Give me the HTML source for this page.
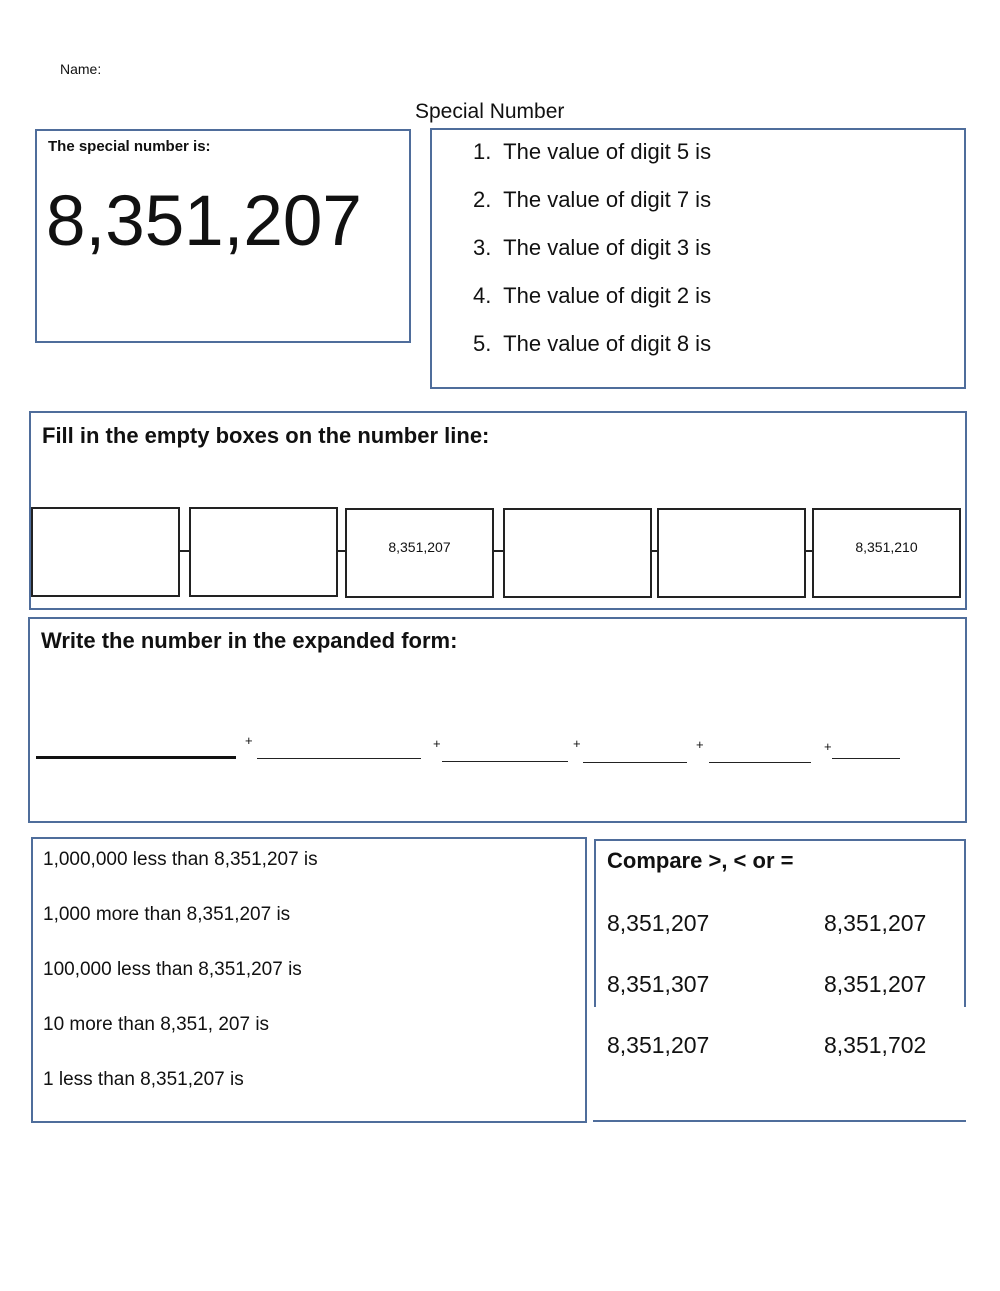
<!DOCTYPE html>
<html><head><style>
body{margin:0;width:1000px;height:1291px;background:#fff;position:relative;font-family:"Liberation Sans",sans-serif;color:#111;overflow:hidden}
.a{position:absolute}
.b{position:absolute;border:2px solid #4f6d9b;box-sizing:border-box}
.k{position:absolute;border:2px solid #222;box-sizing:border-box;font-size:14px;text-align:center;line-height:74px}
.t{position:absolute;white-space:nowrap}
.ln{position:absolute;height:0;border-top:1px solid #222}
.c{position:absolute;height:2px;background:#222}
</style></head><body>
<div class="t" style="left:60px;top:61px;font-size:14px">Name:</div>
<div class="t" style="left:415px;top:100px;font-size:21px">Special Number</div>

<div class="b" style="left:35px;top:129px;width:376px;height:214px"></div>
<div class="t" style="left:48px;top:138px;font-size:15px;font-weight:bold">The special number is:</div>
<div class="t" style="left:46px;top:181px;font-size:71px">8,351,207</div>

<div class="b" style="left:430px;top:128px;width:536px;height:261px"></div>
<div class="t" style="left:473px;top:128px;font-size:22px;line-height:48px">1.&nbsp; The value of digit 5 is<br>2.&nbsp; The value of digit 7 is<br>3.&nbsp; The value of digit 3 is<br>4.&nbsp; The value of digit 2 is<br>5.&nbsp; The value of digit 8 is</div>

<div class="b" style="left:29px;top:411px;width:938px;height:199px"></div>
<div class="t" style="left:42px;top:423px;font-size:22px;font-weight:bold">Fill in the empty boxes on the number line:</div>
<div class="c" style="left:180px;top:550px;width:10px"></div>
<div class="c" style="left:338px;top:550px;width:8px"></div>
<div class="c" style="left:494px;top:550px;width:10px"></div>
<div class="c" style="left:652px;top:550px;width:6px"></div>
<div class="c" style="left:805px;top:550px;width:8px"></div>
<div class="k" style="left:31px;top:507px;width:149px;height:90px"></div>
<div class="k" style="left:189px;top:507px;width:149px;height:90px"></div>
<div class="k" style="left:345px;top:508px;width:149px;height:90px">8,351,207</div>
<div class="k" style="left:503px;top:508px;width:149px;height:90px"></div>
<div class="k" style="left:657px;top:508px;width:149px;height:90px"></div>
<div class="k" style="left:812px;top:508px;width:149px;height:90px">8,351,210</div>

<div class="b" style="left:28px;top:617px;width:939px;height:206px"></div>
<div class="t" style="left:41px;top:628px;font-size:22px;font-weight:bold">Write the number in the expanded form:</div>
<div class="a" style="left:36px;top:756px;width:200px;height:3px;background:#111"></div>
<div class="t" style="left:245px;top:733px;font-size:13px">+</div>
<div class="ln" style="left:257px;top:758px;width:164px"></div>
<div class="t" style="left:433px;top:736px;font-size:13px">+</div>
<div class="ln" style="left:442px;top:761px;width:126px"></div>
<div class="t" style="left:573px;top:736px;font-size:13px">+</div>
<div class="ln" style="left:583px;top:762px;width:104px"></div>
<div class="t" style="left:696px;top:737px;font-size:13px">+</div>
<div class="ln" style="left:709px;top:762px;width:102px"></div>
<div class="t" style="left:824px;top:739px;font-size:13px">+</div>
<div class="ln" style="left:832px;top:758px;width:68px"></div>

<div class="b" style="left:31px;top:837px;width:556px;height:286px"></div>
<div class="t" style="left:43px;top:832px;font-size:19px;line-height:55px">1,000,000 less than 8,351,207 is<br>1,000 more than 8,351,207 is<br>100,000 less than 8,351,207 is<br>10 more than 8,351, 207 is<br>1 less than 8,351,207 is</div>

<div class="a" style="left:594px;top:839px;width:372px;height:168px;border:2px solid #4f6d9b;border-bottom:none;box-sizing:border-box"></div>
<div class="a" style="left:593px;top:1120px;width:373px;height:2px;background:#4f6d9b"></div>
<div class="t" style="left:607px;top:848px;font-size:22px;font-weight:bold">Compare &gt;, &lt; or =</div>
<div class="t" style="left:607px;top:893px;font-size:23px;line-height:61px">8,351,207<br>8,351,307<br>8,351,207</div>
<div class="t" style="left:824px;top:893px;font-size:23px;line-height:61px">8,351,207<br>8,351,207<br>8,351,702</div>
</body></html>
